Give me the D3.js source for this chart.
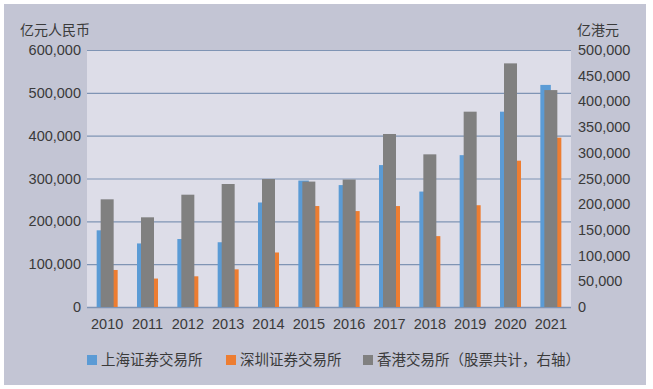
<!DOCTYPE html>
<html>
<head>
<meta charset="utf-8">
<script src="https://cdn.jsdelivr.net/npm/d3@7"></script>
<style>
  body { margin: 0; background: #fff; }
  svg text { font-family: "Liberation Sans", "Noto Sans CJK SC", sans-serif; fill: #3a3a3a; }
</style>
</head>
<body>
<div id="vis-holder"></div>
<script>
// data (亿元人民币 / 亿港元)
const years = ["2010", "2011", "2012", "2013", "2014", "2015", "2016", "2017", "2018", "2019", "2020", "2021"];
const shanghai = [179007, 148376, 158698, 151165, 243974, 295194, 284607, 331325, 269515, 354500, 456000, 518500];
const shenzhen = [86454, 66382, 71659, 87912, 127274, 235717, 223928, 235644, 165450, 237581, 341600, 395300];
const hongkong = [209500, 174500, 218500, 239300, 249000, 244000, 248000, 336600, 297000, 380000, 474000, 422000];
const leftTicks = [0, 100000, 200000, 300000, 400000, 500000, 600000];
const rightTicks = [0, 50000, 100000, 150000, 200000, 250000, 300000, 350000, 400000, 450000, 500000];
const legendNames = ["上海证券交易所", "深圳证券交易所", "香港交易所（股票共计，右轴）"];
const colors = ["#5b9bd5", "#ed7d31", "#808080"];

const width = 653, height = 389;
const plot = { left: 87, right: 571, top: 50, bottom: 307 };

const svg = d3.select("#vis-holder")
    .append("svg")
    .attr("width", width)
    .attr("height", height);

// background panel
svg.append("rect")
    .attr("x", 4).attr("y", 4)
    .attr("width", 642).attr("height", 381)
    .attr("fill", "#c3c5d4");

svg.append("rect")
    .attr("x", plot.left).attr("y", plot.top)
    .attr("width", plot.right - plot.left).attr("height", plot.bottom - plot.top)
    .attr("fill", "#dddde8");

const x = d3.scaleBand()
    .domain(years)
    .range([plot.left, plot.right]);

const yL = d3.scaleLinear().domain([0, 600000]).range([plot.bottom, plot.top]);
const yR = d3.scaleLinear().domain([0, 500000]).range([plot.bottom, plot.top]);

const fmt = d3.format(",");

// gridlines
svg.append("g")
    .selectAll("line")
    .data(leftTicks)
    .enter().append("line")
    .attr("x1", plot.left).attr("x2", plot.right)
    .attr("y1", d => yL(d) + 0.5).attr("y2", d => yL(d) + 0.5)
    .attr("stroke", "#7f94b4")
    .attr("stroke-width", d => d === 0 ? 1.6 : 1.2);

// bars: blue + orange side by side, gray (secondary) on top
const bw = 10.5, gw = 13;
const bars = svg.append("g");
bars.selectAll(".sh")
    .data(years)
    .enter().append("rect")
    .attr("x", d => x(d) + x.bandwidth() / 2 - bw)
    .attr("y", (d, i) => yL(shanghai[i]))
    .attr("width", bw)
    .attr("height", (d, i) => yL(0) - yL(shanghai[i]))
    .attr("fill", colors[0]);

bars.selectAll(".sz")
    .data(years)
    .enter().append("rect")
    .attr("x", d => x(d) + x.bandwidth() / 2)
    .attr("y", (d, i) => yL(shenzhen[i]))
    .attr("width", bw)
    .attr("height", (d, i) => yL(0) - yL(shenzhen[i]))
    .attr("fill", colors[1]);

bars.selectAll(".hk")
    .data(years)
    .enter().append("rect")
    .attr("x", d => x(d) + x.bandwidth() / 2 - gw / 2)
    .attr("y", (d, i) => yR(hongkong[i]))
    .attr("width", gw)
    .attr("height", (d, i) => yR(0) - yR(hongkong[i]))
    .attr("fill", colors[2]);

// left axis labels
svg.append("g")
    .selectAll("text")
    .data(leftTicks)
    .enter().append("text")
    .attr("x", 81)
    .attr("y", d => yL(d) + 5)
    .attr("text-anchor", "end")
    .style("font-size", "14.5px")
    .text(d => fmt(d));

// right axis labels
svg.append("g")
    .selectAll("text")
    .data(rightTicks)
    .enter().append("text")
    .attr("x", 578)
    .attr("y", d => yR(d) + 5)
    .style("font-size", "14.5px")
    .text(d => fmt(d));

// x labels
svg.append("g")
    .selectAll("text")
    .data(years)
    .enter().append("text")
    .attr("x", d => x(d) + x.bandwidth() / 2)
    .attr("y", 329)
    .attr("text-anchor", "middle")
    .style("font-size", "14.5px")
    .text(d => d);

// axis titles
svg.append("text")
    .attr("x", 20).attr("y", 35)
    .style("font-size", "14px")
    .text("亿元人民币");
svg.append("text")
    .attr("x", 577).attr("y", 35)
    .style("font-size", "14px")
    .text("亿港元");

// legend
const legendX = [87, 226, 363];
const legend = svg.append("g")
    .selectAll("g")
    .data(legendNames)
    .enter().append("g")
    .attr("transform", (d, i) => "translate(" + legendX[i] + ",360)");
legend.append("rect")
    .attr("x", 0).attr("y", -5)
    .attr("width", 10).attr("height", 10)
    .attr("fill", (d, i) => colors[i]);
legend.append("text")
    .attr("x", 14).attr("y", 5)
    .style("font-size", "14.5px")
    .text(d => d);
</script>
</body>
</html>
